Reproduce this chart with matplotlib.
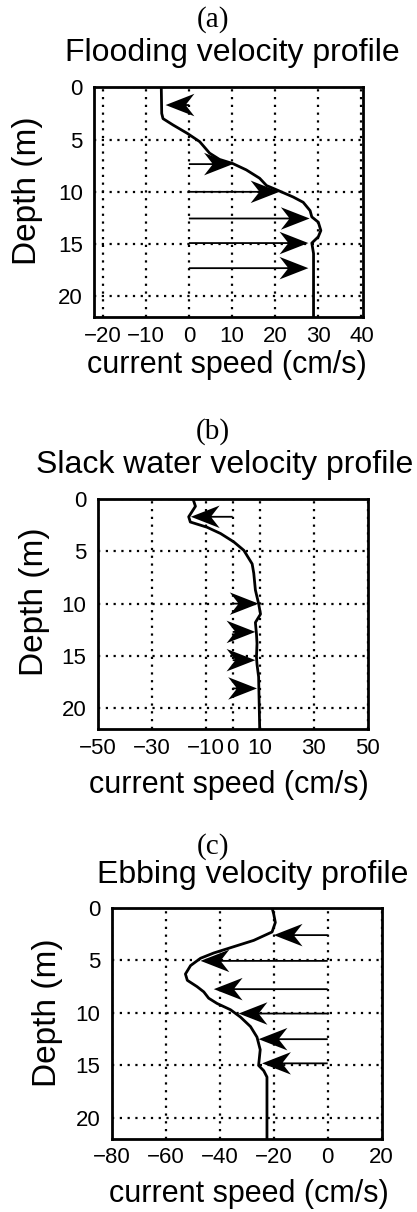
import numpy as np
import matplotlib.pyplot as plt

plt.rcParams['font.family'] = ['Liberation Sans', 'DejaVu Sans']

# (a) flooding profile: speed (cm/s) vs depth (m)
flood_speed = [-6.4, -6.3, -6.0, -3.7, -0.4, 2.5, 4.8, 7.1, 10.2, 13.3, 16.4, 18.0,
               20.3, 24.2, 26.5, 28.1, 28.5, 30.0, 30.6, 30.0, 28.5, 28.9, 28.9]
flood_depth = [0.0, 2.5, 3.0, 3.6, 4.4, 5.2, 6.3, 6.9, 7.3, 7.9, 8.7, 9.4,
               9.8, 10.5, 11.0, 11.8, 12.4, 12.9, 13.7, 14.3, 14.9, 15.9, 22.0]
flood_arrow_depth = [1.7, 7.35, 10.0, 12.55, 14.9, 17.3]
flood_arrow_u = [-5.4, 10.2, 21.0, 28.0, 27.7, 27.7]

# (b) slack water profile
slack_speed = [-14.7, -13.8, -16.3, -15.7, -9.5, -4.5, 0.4, 4.1, 7.2, 7.8, 8.4, 9.6,
               10.3, 8.4, 8.8, 9.0, 8.8, 9.0, 9.6, 10.0]
slack_depth = [0.0, 0.7, 1.7, 2.2, 2.7, 3.3, 4.1, 4.9, 6.2, 7.1, 8.7, 10.0,
               11.0, 11.8, 12.9, 13.8, 15.1, 15.8, 17.0, 22.0]
slack_arrow_depth = [1.7, 10.0, 12.7, 15.4, 18.1]
slack_arrow_u = [-15.5, 9.6, 8.4, 8.4, 9.0]

# (c) ebbing profile
ebb_speed = [-20.6, -20.0, -19.4, -20.6, -27.4, -34.8, -42.2, -47.1, -50.8, -52.7, -52.0,
             -48.4, -45.9, -44.1, -41.0, -36.0, -32.3, -28.6, -26.2, -25.0, -25.6, -23.7,
             -22.5, -22.5]
ebb_depth = [0.0, 0.6, 1.4, 2.3, 3.1, 3.7, 4.3, 4.8, 5.5, 6.3, 6.9,
             7.5, 8.0, 8.6, 9.1, 9.7, 10.4, 11.3, 12.3, 13.5, 15.0, 15.5,
             16.1, 22.0]
ebb_arrow_depth = [2.6, 5.05, 7.74, 10.06, 12.5, 14.8]
ebb_arrow_u = [-20.0, -47.1, -42.2, -33.0, -25.6, -24.3]

panels = [
    dict(tag='(a)', title='Flooding velocity profile', speed=flood_speed, depth=flood_depth,
         ad=flood_arrow_depth, au=flood_arrow_u, xlim=(-22, 40.3),
         xticks=[-20, -10, 0, 10, 20, 30, 40],
         rect=[0.2254, 0.7382, 0.6444, 0.1898],
         tag_xy=(213, 20), title_xy=(232, 53), xl_xy=(227, 373), yl_xy=(28, 191)),
    dict(tag='(b)', title='Slack water velocity profile', speed=slack_speed, depth=slack_depth,
         ad=slack_arrow_depth, au=slack_arrow_u, xlim=(-50, 50),
         xticks=[-50, -30, -10, 0, 10, 30, 50],
         rect=[0.2343, 0.3983, 0.6475, 0.1900],
         tag_xy=(213, 432), title_xy=(225, 465), xl_xy=(229, 793), yl_xy=(35, 602)),
    dict(tag='(c)', title='Ebbing velocity profile', speed=ebb_speed, depth=ebb_depth,
         ad=ebb_arrow_depth, au=ebb_arrow_u, xlim=(-80, 20),
         xticks=[-80, -60, -40, -20, 0, 20],
         rect=[0.2679, 0.0602, 0.6475, 0.1908],
         tag_xy=(213, 847), title_xy=(253, 875), xl_xy=(249, 1202), yl_xy=(48, 1013)),
]

W, H = 417, 1212
fig = plt.figure(figsize=(W / 100, H / 100), dpi=100)

def fx(px):
    return px / W

def fy(py):
    return 1 - py / H

for p in panels:
    ax = fig.add_axes(p['rect'])
    ax.set_xlim(*p['xlim'])
    ax.set_ylim(22, 0)
    ax.set_xticks(p['xticks'])
    ax.set_yticks([0, 5, 10, 15, 20])
    ax.tick_params(direction='in', length=0, labelsize=16)
    ax.tick_params(axis='x', pad=6)
    ax.tick_params(axis='y', pad=8)
    ax.grid(True, color='black', linestyle=(0, (1, 2.5)), linewidth=1.6)
    for s in ax.spines.values():
        s.set_linewidth(2)
    ax.plot(p['speed'], p['depth'], color='black', lw=2, zorder=3)
    zeros = np.zeros(len(p['ad']))
    ax.quiver(zeros, p['ad'], p['au'], zeros, angles='xy', scale_units='xy', scale=1,
              units='dots', width=1.8, headwidth=12.5, headlength=16, headaxislength=11.5,
              minshaft=0, color='black', zorder=4)
    fig.text(fx(p['tag_xy'][0]), fy(p['tag_xy'][1]), p['tag'], family='Liberation Serif',
             fontsize=21, ha='center', va='center')
    fig.text(fx(p['title_xy'][0]), fy(p['title_xy'][1]), p['title'], fontsize=23,
             ha='center', va='center')
    fig.text(fx(p['xl_xy'][0]), fy(p['xl_xy'][1]), 'current speed (cm/s)', fontsize=22,
             ha='center', va='baseline')
    fig.text(fx(p['yl_xy'][0]), fy(p['yl_xy'][1]), 'Depth (m)', fontsize=24,
             ha='center', va='center', rotation=90)

fig.savefig('out.png', dpi=100, facecolor='white')
